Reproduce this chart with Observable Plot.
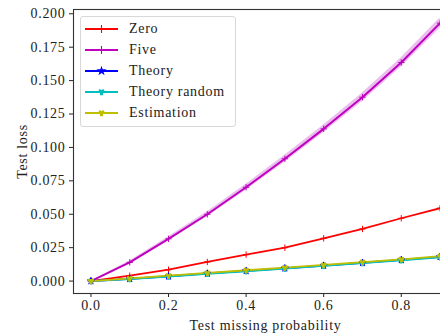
<!DOCTYPE html>
<html>
<head>
<meta charset="utf-8">
<script src="https://cdn.jsdelivr.net/npm/d3@7"></script>
<script src="https://cdn.jsdelivr.net/npm/@observablehq/plot@0.6"></script>
<style>
  html, body { margin: 0; padding: 0; background: white; }
  #wrap { position: relative; width: 440px; height: 333px; overflow: hidden; }
  #legend { position: absolute; left: 80px; top: 16px; width: 154px; height: 109px;
    border: 1px solid #d8d8d8; border-radius: 3px; background: rgba(255,255,255,0.85);
    font-family: "Liberation Serif", serif; font-size: 14px; letter-spacing: 0.7px; color: #222; }
  .entry { position: absolute; left: 4px; height: 20px; display: flex; align-items: center; }
  .entry span { margin-left: 11px; }
  #chart svg text { letter-spacing: 0.5px; font-family: "Liberation Serif", serif; }
</style>
</head>
<body>
<div id="wrap"><div id="chart"></div><div id="legend"></div></div>
<script>
// ---- data ----
const missingProb = [0, 0.1, 0.2, 0.3, 0.4, 0.5, 0.6, 0.7, 0.8, 0.9];
const zeroLoss   = [0, 0.0040, 0.0085, 0.0143, 0.0198, 0.0250, 0.0320, 0.0390, 0.0470, 0.0545];
const fiveLoss   = [0, 0.0140, 0.0316, 0.0500, 0.0702, 0.0915, 0.1139, 0.1376, 0.1636, 0.1930];
const fiveSpread = [0, 0.0010, 0.0015, 0.0019, 0.0023, 0.0026, 0.0029, 0.0032, 0.0035, 0.0038];
const theoryLoss = [0, 0.0017, 0.0036, 0.0057, 0.0076, 0.0096, 0.0116, 0.0137, 0.0158, 0.0181];
const theoryRandomLoss = [0, 0.0015, 0.0033, 0.0054, 0.0073, 0.0093, 0.0113, 0.0134, 0.0155, 0.0178];
const estimationLoss   = [0, 0.0020, 0.0040, 0.0061, 0.0081, 0.0101, 0.0121, 0.0142, 0.0163, 0.0186];
const seriesNames  = ["Zero", "Five", "Theory", "Theory random", "Estimation"];
const seriesColors = ["#ff0000", "#bf00bf", "#0000ff", "#00bfbf", "#bfbf00"];
const seriesSymbols = ["plus", "plus", "star", "wye", "wye"];
const xTicks = [0, 0.2, 0.4, 0.6, 0.8];
const yTicks = [0, 0.025, 0.05, 0.075, 0.1, 0.125, 0.15, 0.175, 0.2];

const seriesValues = [zeroLoss, fiveLoss, theoryLoss, theoryRandomLoss, estimationLoss];
const rows = [];
seriesNames.forEach((name, i) => missingProb.forEach((p, j) => rows.push({series: name, p, loss: seriesValues[i][j]})));
const band = missingProb.map((p, j) => ({p, lo: fiveLoss[j] - fiveSpread[j], hi: fiveLoss[j] + fiveSpread[j]}));

const chart = Plot.plot({
  width: 440, height: 333,
  marginLeft: 73, marginRight: -17, marginTop: 9, marginBottom: 40,
  style: {fontFamily: "'Liberation Serif', serif", fontSize: "12px", color: "#222", background: "white"},
  x: {domain: [-0.045, 0.945], ticks: xTicks, tickFormat: d3.format(".1f"), tickSize: 4, tickPadding: 3,
      label: "Test missing probability", labelAnchor: "center", labelArrow: "none", labelOffset: 36},
  y: {domain: [-0.0093, 0.2032], ticks: yTicks, tickFormat: d3.format(".3f"), tickSize: 4, tickPadding: 4,
      label: "Test loss", labelAnchor: "center", labelArrow: "none", labelOffset: 56},
  color: {domain: seriesNames, range: seriesColors},
  marks: [
    Plot.areaY(band, {x: "p", y1: "lo", y2: "hi", fill: "#d070d8", fillOpacity: 0.45}),
    ...seriesNames.map((name, i) => Plot.lineY(rows.filter(d => d.series === name),
      {x: "p", y: "loss", stroke: seriesColors[i], strokeWidth: i === 1 ? 2 : 1.8})),
    ...seriesNames.map((name, i) => Plot.dot(rows.filter(d => d.series === name),
      {x: "p", y: "loss", stroke: seriesColors[i], fill: seriesColors[i], symbol: () => seriesSymbols[i], r: 2.2, strokeWidth: 1})),
    Plot.frame({stroke: "#333", strokeWidth: 1.1})
  ]
});
// larger axis titles
chart.querySelectorAll("g[aria-label$='label'] text").forEach(t => { t.style.fontSize = "14px"; t.style.letterSpacing = "0.7px"; });
document.getElementById("chart").appendChild(chart);

// legend
const legend = document.getElementById("legend");
seriesNames.forEach((name, i) => {
  const e = document.createElement("div");
  e.className = "entry";
  e.style.top = (2 + i * 21) + "px";
  const svg = d3.create("svg").attr("width", 33).attr("height", 12);
  svg.append("line").attr("x1", 0).attr("x2", 33).attr("y1", 6).attr("y2", 6)
    .attr("stroke", seriesColors[i]).attr("stroke-width", 2);
  const symType = {plus: d3.symbolCross, star: d3.symbolStar, wye: d3.symbolWye}[seriesSymbols[i]];
  svg.append("path").attr("transform", "translate(16.5,6)")
    .attr("d", seriesSymbols[i] === "plus" ? "M0,-4V4M-3,0H3" : d3.symbol(symType, 14)())
    .attr("stroke", seriesColors[i]).attr("fill", seriesColors[i]).attr("stroke-width", 1.1);
  e.appendChild(svg.node());
  const t = document.createElement("span");
  t.textContent = name;
  e.appendChild(t);
  legend.appendChild(e);
});
</script>
</body>
</html>
